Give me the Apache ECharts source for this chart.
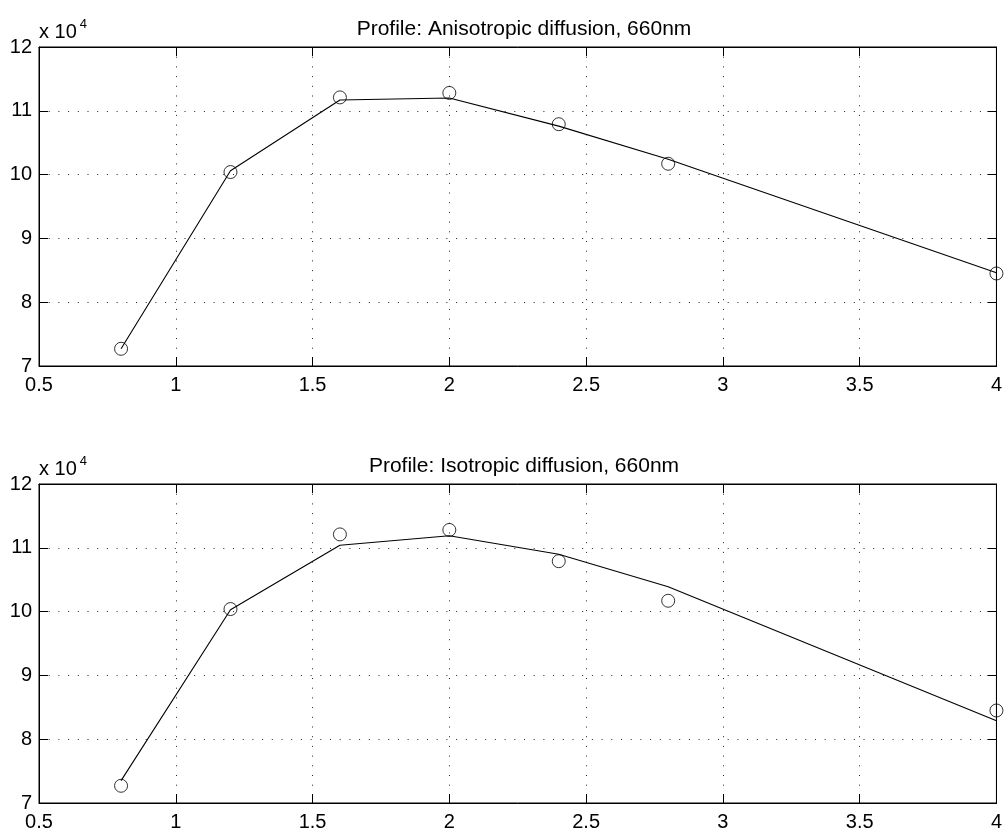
<!DOCTYPE html>
<html>
<head>
<meta charset="utf-8">
<script src="https://cdn.jsdelivr.net/npm/echarts@6/dist/echarts.min.js"></script>
<style>
  html, body { margin: 0; padding: 0; background: #fff; }
  #chart { width: 1005px; height: 833px; }
</style>
</head>
<body>
<div id="chart"></div>
<script>
// Source-detector distances (x axis)
const distances = [0.8, 1.2, 1.6, 2.0, 2.4, 2.8, 4.0];
// Measured intensity profile at 660nm
const measured = [72700, 100400, 112100, 112800, 107900, 101700, 84500];
// Model fits
const anisotropicFit = [72700, 100600, 111700, 112000, 107600, 102400, 84600];
const isotropicFit = [73500, 100300, 110400, 111900, 109000, 103900, 82900];

const panelTitles = [
  'Profile: Anisotropic diffusion, 660nm',
  'Profile: Isotropic diffusion, 660nm'
];
const xTicks = { min: 0.5, max: 4, interval: 0.5 };
const yTicks = { min: 70000, max: 120000, interval: 10000 };

const FONT = 'Liberation Sans, Arial, Helvetica, sans-serif';
const panelTops = [47, 484];
const PANEL_H = 319;
const GRID_LEFT = 39;
const GRID_RIGHT = 6;

const grids = [], xAxes = [], yAxes = [], series = [], titles = [];

function pairs(xs, ys) { return xs.map((x, i) => [x, ys[i]]); }

panelTops.forEach((top, p) => {
  grids.push({
    left: GRID_LEFT, right: GRID_RIGHT, top: top, height: PANEL_H,
    show: true, borderColor: '#000', borderWidth: 1, backgroundColor: '#fff'
  });
  titles.push({
    text: panelTitles[p],
    left: (GRID_LEFT + 1005 - GRID_RIGHT) / 2,
    top: top - 33,
    textAlign: 'center',
    textStyle: { fontFamily: FONT, fontSize: 21, fontWeight: 'normal', color: '#000' }
  });
  // bottom x axis with labels and dotted grid
  xAxes.push({
    gridIndex: p, type: 'value', position: 'bottom',
    min: xTicks.min, max: xTicks.max, interval: xTicks.interval,
    axisLine: { show: true, onZero: false, lineStyle: { color: '#000', width: 1 } },
    axisTick: { show: true, inside: true, length: 9, lineStyle: { color: '#000' } },
    axisLabel: { color: '#000', fontFamily: FONT, fontSize: 20, margin: 9,
      showMinLabel: true, showMaxLabel: true },
    splitLine: { show: true, lineStyle: { color: '#222', width: 1, type: [1, 8.7] } }
  });
  // top x axis: ticks only
  xAxes.push({
    gridIndex: p, type: 'value', position: 'top',
    min: xTicks.min, max: xTicks.max, interval: xTicks.interval,
    axisLine: { show: true, onZero: false, lineStyle: { color: '#000' } },
    axisTick: { show: true, inside: true, length: 9, lineStyle: { color: '#000' } },
    axisLabel: { show: false }, splitLine: { show: false }
  });
  // left y axis with labels, exponent name and dotted grid
  yAxes.push({
    gridIndex: p, type: 'value', position: 'left',
    min: yTicks.min, max: yTicks.max, interval: yTicks.interval,
    name: '{a|x 10}{b|4}', nameLocation: 'end', nameGap: 5,
    nameTextStyle: {
      align: 'left', verticalAlign: 'bottom', color: '#000',
      rich: {
        a: { fontFamily: FONT, fontSize: 20, color: '#000', lineHeight: 28, verticalAlign: 'bottom' },
        b: { fontFamily: FONT, fontSize: 13, color: '#000', verticalAlign: 'top', padding: [4, 0, 0, 3] }
      }
    },
    axisLine: { show: true, onZero: false, lineStyle: { color: '#000', width: 1 } },
    axisTick: { show: true, inside: true, length: 9, lineStyle: { color: '#000' } },
    axisLabel: { color: '#000', fontFamily: FONT, fontSize: 20, margin: 7,
      formatter: v => String(Math.round(v / 1e4)) },
    splitLine: { show: true, lineStyle: { color: '#222', width: 1, type: [1, 8.7] } }
  });
  // right y axis: ticks only
  yAxes.push({
    gridIndex: p, type: 'value', position: 'right',
    min: yTicks.min, max: yTicks.max, interval: yTicks.interval,
    axisLine: { show: true, onZero: false, lineStyle: { color: '#000' } },
    axisTick: { show: true, inside: true, length: 9, lineStyle: { color: '#000' } },
    axisLabel: { show: false }, splitLine: { show: false }
  });

  const fit = p === 0 ? anisotropicFit : isotropicFit;
  series.push({
    type: 'line', xAxisIndex: 2 * p, yAxisIndex: 2 * p,
    data: pairs(distances, fit), showSymbol: false, symbol: 'none',
    lineStyle: { color: '#000', width: 1.1 }, silent: true, animation: false, z: 3
  });
  series.push({
    type: 'scatter', xAxisIndex: 2 * p, yAxisIndex: 2 * p,
    data: pairs(distances, measured), symbol: 'circle', symbolSize: 13,
    itemStyle: { color: 'transparent', borderColor: '#000', borderWidth: 1 },
    silent: true, animation: false, z: 4
  });
});

const chart = echarts.init(document.getElementById('chart'), null, { renderer: 'canvas' });
chart.setOption({
  backgroundColor: '#fff',
  animation: false,
  title: titles,
  grid: grids,
  xAxis: xAxes,
  yAxis: yAxes,
  series: series
});
</script>
</body>
</html>
